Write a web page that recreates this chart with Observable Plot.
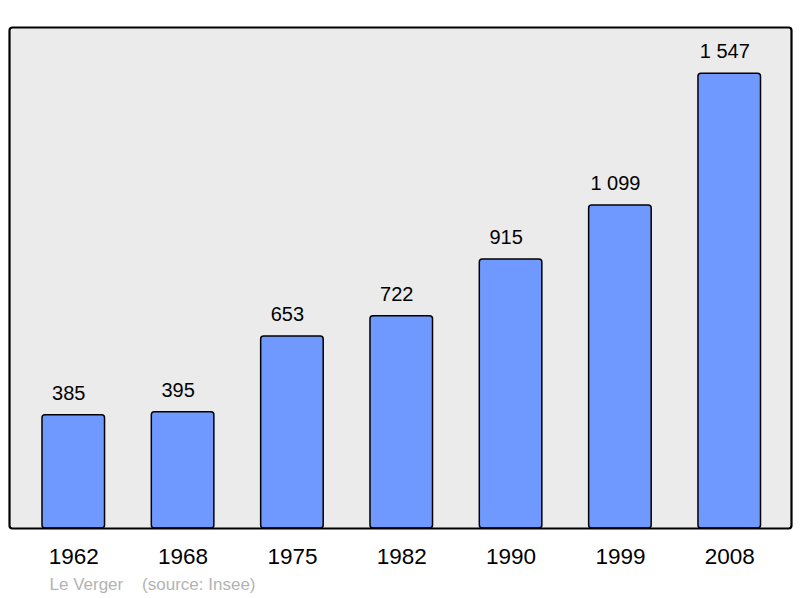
<!DOCTYPE html>
<html><head><meta charset="utf-8">
<script src="https://cdn.jsdelivr.net/npm/d3@7"></script>
<script src="https://cdn.jsdelivr.net/npm/@observablehq/plot@0.6"></script>
<style>body{margin:0;background:#fff}</style>
</head><body><div id="chart"></div>
<script>
const years = ["1962","1968","1975","1982","1990","1999","2008"];
const population = [385, 395, 653, 722, 915, 1099, 1547];
const captionText = "Le Verger    (source: Insee)";

const data = years.map((y,i)=>({year:y, value:population[i]}));

const chart = Plot.plot({
  width: 800, height: 598,
  marginTop: 27, marginBottom: 70, marginLeft: 9, marginRight: 9,
  style: {fontFamily: "Liberation Sans, Arial, sans-serif", background: "#fff"},
  x: {domain: years, range: [18.6, 783.9], paddingInner: 0.428, paddingOuter: 0.214, round: false, label: null},
  y: {domain: [0, 1704], axis: null},
  marks: [
    Plot.frame({fill: "#ebebeb", stroke: "none", rx: 3}),
    Plot.barY(data, {x: "year", y: "value", fill: "#7099ff", stroke: "#000", strokeWidth: 1.5, rx: 3}),
    Plot.frame({stroke: "#000", strokeWidth: 2.2, rx: 3}),
    Plot.text(data, {x: "year", y: "value", text: d => d3.format(",")(d.value).replace(/,/g," "), dy: -22, dx: -5, fontSize: 20, fill: "#000"}),
    Plot.axisX({tickSize: 0, tickPadding: 20, fontSize: 22.5, color: "#000"}),
    Plot.text([captionText], {frameAnchor: "bottom-left", text: d => d, dx: 40, dy: 61, fontSize: 17, fill: "#b3b3b3", textAnchor: "start"})
  ]
});
document.getElementById("chart").appendChild(chart);
d3.select(chart).selectAll("text").attr("xml:space","preserve").style("white-space","pre");
</script></body></html>
